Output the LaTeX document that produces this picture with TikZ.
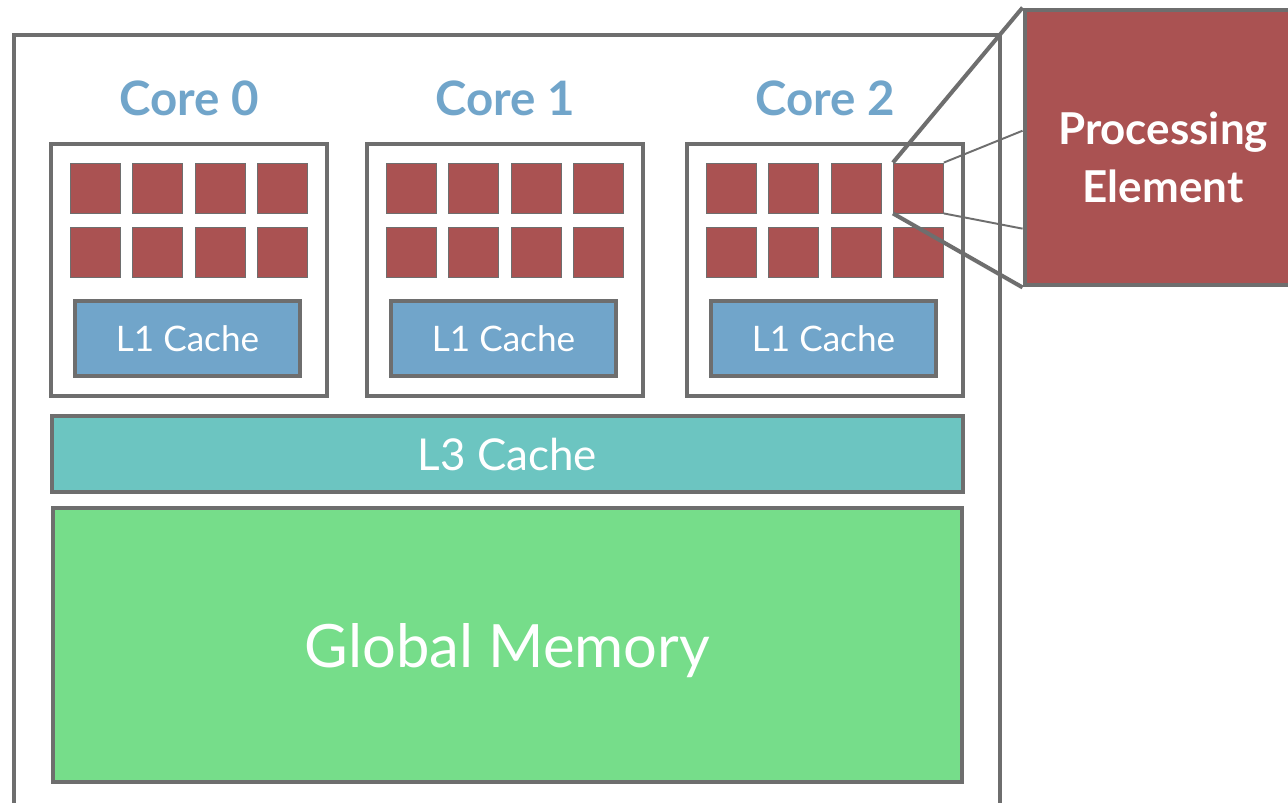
\documentclass[tikz,border=0pt]{standalone}
\usepackage{fontspec}
\setmainfont{Lato}
\usetikzlibrary{calc}
\definecolor{EdgeGrey}{RGB}{110,110,110}
\definecolor{PEred}{RGB}{170,82,82}
\definecolor{CacheBlue}{RGB}{113,165,202}
\definecolor{CacheTeal}{RGB}{108,197,193}
\definecolor{MemGreen}{RGB}{118,221,138}

\begin{document}
\begin{tikzpicture}[x=0.02cm, y=-0.02cm,
  frame/.style={draw=EdgeGrey, line width=2.3pt},
  corelab/.style={text=CacheBlue, font=\bfseries\fontsize{27}{32}\selectfont, inner sep=0pt},
  corebox/.style={frame, fill=white, minimum width=5.52cm, minimum height=5.04cm},
  pe/.style={draw=EdgeGrey, line width=0.5pt, fill=PEred, minimum size=1cm, inner sep=0pt},
  l1/.style={frame, fill=CacheBlue, text=white, minimum width=4.5cm, minimum height=1.5cm, font=\fontsize{20}{24}\selectfont, text depth=0pt},
  l3/.style={frame, fill=CacheTeal, text=white, minimum width=18.22cm, minimum height=1.52cm, font=\fontsize{25}{30}\selectfont, text depth=0pt},
  mem/.style={frame, fill=MemGreen, text=white, minimum width=18.2cm, minimum height=5.48cm, font=\fontsize{34}{40}\selectfont, text depth=0pt},
  bigpe/.style={frame, line width=2.8pt, fill=PEred, minimum width=5.52cm, minimum height=5.5cm},
  petext/.style={text=white, align=center, font=\bfseries\fontsize{25}{33}\selectfont},
  zoom/.style={EdgeGrey, line width=2.3pt},
  thin/.style={EdgeGrey, line width=1.1pt}]
\clip (0,0) rectangle (1288,802);
\fill[white] (0,0) rectangle (1288,802);
% chip outline, runs off the bottom
\draw[frame] (14,820) -- (14,35) -- (1000,35) -- (1000,820);
% three cores: label, 2x4 processing elements, L1
\foreach \cx/\k in {189/0, 505/1, 825/2}{
  \node[corelab] (lab\k) at (\cx,98) {Core \k};
  \node[corebox] (core\k) at (\cx,270) {};
  \foreach \r in {0,1}{
    \foreach \c in {0,...,3}{
      \node[pe] (pe\k\r\c) at ({\cx-93.5+62.3*\c},{188+64*\r}) {};
    }
  }
  \node[l1] (l1\k) at (\cx-1.5,338.5) {L1 Cache};
}
\node[l3] (l3) at (507.5,454) {L3 Cache};
\node[mem] (mem) at (507.5,645) {Global Memory};
% blow-up of one element
\node[bigpe] (zoompe) at (1163,147.5) {};
\node[petext] (pelab) at (1163,157) {Processing\\ Element};
\draw[zoom] (pe203.north west) -- (zoompe.north west);
\draw[zoom] (pe203.south west) -- (zoompe.south west);
\draw[thin] (pe203.north east) -- ($(zoompe.north west)!0.44!(zoompe.south west)$);
\draw[thin] (pe203.south east) -- ($(zoompe.north west)!0.79!(zoompe.south west)$);
\end{tikzpicture}
\end{document}
